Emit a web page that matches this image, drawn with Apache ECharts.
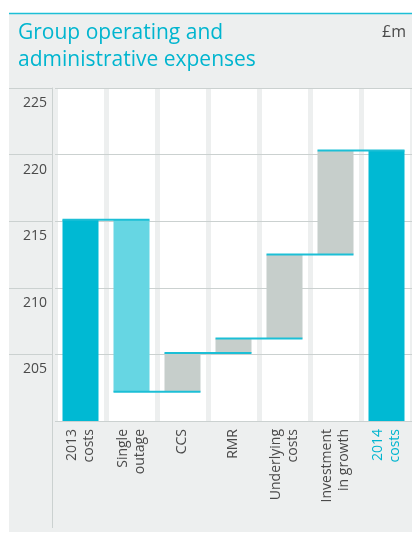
<!DOCTYPE html>
<html>
<head>
<meta charset="utf-8">
<script src="https://cdn.jsdelivr.net/npm/echarts@6/dist/echarts.min.js"></script>
<style>
  html, body { margin: 0; padding: 0; background: #fff; }
  #chart { width: 412px; height: 534px; }
</style>
</head>
<body>
<div id="chart"></div>
<script>
// waterfall data (£m)
const categories = ['2013\ncosts', 'Single\noutage', 'CCS', 'RMR', 'Underlying\ncosts', 'Investment\nin growth', '2014\ncosts'];
const steps = [215.1, -12.9, 2.9, 1.1, 6.3, 7.8, 220.3];   // first & last are totals
const yTicks = [200, 205, 210, 215, 220, 225];

const colors = {
    total: '#00b9d3',
    down: '#66d6e3',
    up: '#c6cecb',
    link: '#1cbfd6',
    grid: '#cbd1d0',
    panel: '#edefef',
    text: '#4a4a4a',
    title: '#00b5cf'
};

// build stacked base + visible bar, plus the level each step ends at
const base = [], visible = [], levels = [];
let run = 0;
steps.forEach((v, i) => {
    const isTotal = i === 0 || i === steps.length - 1;
    if (isTotal) {
        base.push(0);
        visible.push({ value: v, itemStyle: { color: colors.total } });
        run = v;
    } else {
        const next = +(run + v).toFixed(1);
        base.push(Math.min(run, next));
        visible.push({ value: Math.abs(v), itemStyle: { color: v < 0 ? colors.down : colors.up } });
        run = next;
    }
    levels.push(run);
});
const links = levels.slice(0, -1).map((lv, i) => [i, lv]);

const chart = echarts.init(document.getElementById('chart'));
const barW = 36;

chart.setOption({
    animation: false,
    backgroundColor: '#fff',
    title: {
        text: 'Group operating and\nadministrative expenses',
        left: 13,
        top: 15,
        textStyle: {
            color: colors.title,
            fontSize: 21,
            lineHeight: 27,
            fontWeight: 'normal',
            fontFamily: 'Open Sans'
        }
    },
    graphic: [
        { type: 'rect', z: -100, shape: { x: 9, y: 13, width: 403, height: 519 }, style: { fill: colors.panel } },
        { type: 'line', z: 10, shape: { x1: 9, y1: 13.5, x2: 412, y2: 13.5 }, style: { stroke: colors.link, lineWidth: 1.5 } },
        { type: 'line', z: 10, shape: { x1: 52.5, y1: 421, x2: 52.5, y2: 528 }, style: { stroke: colors.grid, lineWidth: 1 } },
        { type: 'text', z: 10, right: 6, top: 24, style: { text: '£m', fill: colors.text, font: '16px "Open Sans"' } }
    ],
    grid: {
        left: 55,
        top: 88,
        width: 357,
        height: 333,
        show: true,
        backgroundColor: '#fff',
        borderWidth: 0
    },
    xAxis: {
        type: 'category',
        data: categories.map((c, i) => i === categories.length - 1
            ? { value: c, textStyle: { color: colors.title } }
            : c),
        z: 0,
        axisLine: { show: false },
        axisTick: { show: false },
        splitLine: { show: true, interval: 0, lineStyle: { color: colors.panel, width: 5 } },
        axisLabel: {
            interval: 0,
            rotate: 90,
            margin: 8,
            color: colors.text,
            fontSize: 14,
            lineHeight: 17,
            fontFamily: 'Open Sans'
        }
    },
    yAxis: {
        type: 'value',
        min: yTicks[0],
        max: yTicks[yTicks.length - 1],
        interval: 5,
        offset: 3,
        z: 1,
        axisLine: { show: true, lineStyle: { color: colors.grid, width: 1 } },
        axisTick: { show: true, length: 43, lineStyle: { color: colors.grid, width: 1 } },
        splitLine: { show: true, lineStyle: { color: colors.grid, width: 1 } },
        axisLabel: {
            showMinLabel: false,
            margin: 5,
            color: colors.text,
            fontSize: 14,
            lineHeight: 14,
            verticalAlign: 'top',
            padding: [8, 0, 0, 0],
            fontFamily: 'Open Sans'
        }
    },
    series: [
        {
            type: 'bar',
            stack: 'w',
            data: base,
            barWidth: barW,
            itemStyle: { color: 'transparent' },
            emphasis: { disabled: true },
            silent: true
        },
        {
            type: 'bar',
            stack: 'w',
            data: visible,
            barWidth: barW,
            emphasis: { disabled: true }
        },
        {
            type: 'custom',
            data: links,
            z: 5,
            silent: true,
            renderItem(params, api) {
                const p = api.coord([api.value(0), api.value(1)]);
                const band = api.size([1, 0])[0];
                return {
                    type: 'line',
                    shape: { x1: p[0] - barW / 2, y1: p[1], x2: p[0] + band + barW / 2, y2: p[1] },
                    style: { stroke: colors.link, lineWidth: 2 }
                };
            }
        }
    ]
});
</script>
</body>
</html>
